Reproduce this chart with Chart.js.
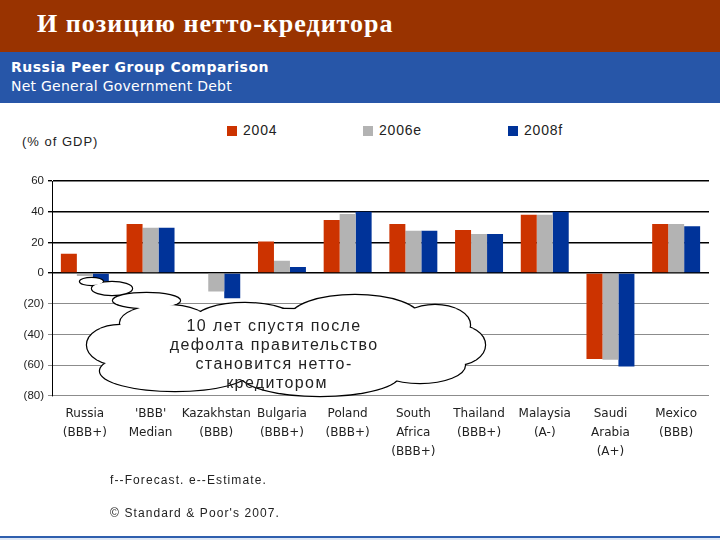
<!DOCTYPE html>
<html>
<head>
<meta charset="utf-8">
<script src="https://cdn.jsdelivr.net/npm/chart.js@4/dist/chart.umd.min.js"></script>
<style>
  body { margin: 0; width: 720px; height: 540px; position: relative; overflow: hidden; background: #fff; font-family: "Liberation Sans", Arial, sans-serif; }
  #titlebar { position: absolute; left: 0; top: 0; width: 720px; height: 52px; background: #993300; }
  #titlebar h1 { margin: 0; position: absolute; left: 37px; top: 9px; font: bold 26px "Liberation Serif", "Times New Roman", serif; letter-spacing: 1px; color: #fff; }
  #band { position: absolute; left: 0; top: 52px; width: 720px; height: 51px; background: #2756a8; color: #fff; }
  #band .l1 { position: absolute; left: 11px; top: 7px; font: bold 14px "DejaVu Sans", Verdana, sans-serif; letter-spacing: 0.5px; }
  #band .l2 { position: absolute; left: 11px; top: 26px; font: 14px "DejaVu Sans", Verdana, sans-serif; letter-spacing: 0.25px; }
  #legend { position: absolute; top: 122px; left: 0; width: 720px; height: 16px; font-size: 14px; letter-spacing: 0.8px; color: #222; }
  #legend span { position: absolute; top: 0; line-height: 16px; }
  #legend i { display: inline-block; width: 10px; height: 10px; margin-right: 6px; vertical-align: -1px; }
  #unit { position: absolute; left: 22px; top: 134px; font-size: 13px; letter-spacing: 1px; color: #222; }
  #wrap { position: absolute; left: 0; top: 160px; width: 720px; height: 300px; }
  #cloud { position: absolute; left: 0; top: 0; width: 720px; height: 540px; pointer-events: none; }
  .note { position: absolute; left: 110px; font-size: 12px; letter-spacing: 1.1px; color: #222; }
  #bottomline { position: absolute; left: 0; top: 536px; width: 720px; height: 4px; background: #dfe8f5; border-top: 2px solid #2f5fae; }
</style>
</head>
<body>
<div id="titlebar"><h1>И позицию нетто-кредитора</h1></div>
<div id="band">
  <div class="l1">Russia Peer Group Comparison</div>
  <div class="l2">Net General Government Debt</div>
</div>
<div id="legend"></div>
<div id="unit">(% of GDP)</div>
<div id="wrap"><canvas id="chart"></canvas></div>

<svg id="cloud" viewBox="0 0 720 540">
  <g id="cloudStroke" fill="none" stroke="#000" stroke-width="2.4"></g>
  <g id="cloudFill" fill="#fff"></g>
  <text font-family="Liberation Sans, Arial, sans-serif" font-size="16" letter-spacing="1.4" fill="#222" text-anchor="middle">
    <tspan x="277" y="331">10 лет спустя после</tspan>
    <tspan x="277" y="350">дефолта правительство</tspan>
    <tspan x="277" y="369">становится нетто-</tspan>
    <tspan x="277" y="388">кредитором</tspan>
  </text>
</svg>

<div class="note" style="top:473px">f--Forecast. e--Estimate.</div>
<div class="note" style="top:506px">© Standard &amp; Poor's 2007.</div>
<div id="bottomline"></div>

<script>
// categories and values (% of GDP, negative = net assets)
const categories = [
  ['Russia', '(BBB+)'],
  ["'BBB'", 'Median'],
  ['Kazakhstan', '(BBB)'],
  ['Bulgaria', '(BBB+)'],
  ['Poland', '(BBB+)'],
  ['South', 'Africa', '(BBB+)'],
  ['Thailand', '(BBB+)'],
  ['Malaysia', '(A-)'],
  ['Saudi', 'Arabia', '(A+)'],
  ['Mexico', '(BBB)']
];
const seriesNames = ['2004', '2006e', '2008f'];
const v2004 = [12.5, 32, null, 20.5, 34.5, 32, 28, 38, -56, 32];
const v2006e = [-2, 29.5, -12, 8, 38.5, 27.5, 25.5, 38, -56.5, 32];
const v2008f = [-5.5, 29.5, -16.5, 4, 40, 27.5, 25.5, 40, -61, 30.5];
const yTicks = [60, 40, 20, 0, -20, -40, -60, -80];

const colors = ['#cc3300', '#b3b3b3', '#003399'];

// legend (html, same colours as datasets)
const legendX = [227, 363, 508];
const legend = document.getElementById('legend');
seriesNames.forEach((name, i) => {
  const s = document.createElement('span');
  s.style.left = legendX[i] + 'px';
  s.innerHTML = '<i style="background:' + colors[i] + '"></i>' + name;
  legend.appendChild(s);
});

// cloud callout shape: union of ellipses
const cloudParts = [
  [91.5, 281.5, 11.5, 3.5],
  [112, 288.5, 20, 6.5],
  [146.5, 300.5, 33.5, 7.5],
  [120, 345, 33, 20],
  [165, 323, 45, 18],
  [245, 320, 50, 17],
  [355, 318, 65, 23],
  [435, 325, 35, 20],
  [455, 345, 30, 20],
  [420, 365, 45, 18],
  [320, 374, 80, 22],
  [175, 371, 75, 20],
  [285, 345, 170, 36]
];
const ns = 'http://www.w3.org/2000/svg';
['cloudStroke', 'cloudFill'].forEach(id => {
  const g = document.getElementById(id);
  cloudParts.forEach(p => {
    const e = document.createElementNS(ns, 'ellipse');
    e.setAttribute('cx', p[0]); e.setAttribute('cy', p[1]);
    e.setAttribute('rx', p[2]); e.setAttribute('ry', p[3]);
    g.appendChild(e);
  });
});

const ctx = document.getElementById('chart').getContext('2d');
new Chart(ctx, {
  type: 'bar',
  data: {
    labels: categories,
    datasets: [
      { label: seriesNames[0], data: v2004, backgroundColor: colors[0] },
      { label: seriesNames[1], data: v2006e, backgroundColor: colors[1] },
      { label: seriesNames[2], data: v2008f, backgroundColor: colors[2] }
    ]
  },
  options: {
    responsive: true,
    maintainAspectRatio: false,
    animation: false,
    layout: { padding: { top: 21, right: 11, left: 0, bottom: 0 } },
    datasets: { bar: { categoryPercentage: 0.73, barPercentage: 1.0, borderWidth: 0 } },
    plugins: { legend: { display: false }, tooltip: { enabled: false } },
    scales: {
      x: {
        grid: { display: false, drawTicks: false },
        border: { display: false },
        ticks: {
          color: '#222', padding: 9, maxRotation: 0, autoSkip: false,
          font: { family: 'DejaVu Sans', size: 12, lineHeight: 1.58 }
        },
        afterFit: scale => { scale.height = 64.3; }
      },
      y: {
        min: -80, max: 60,
        afterBuildTicks: scale => { scale.ticks = yTicks.map(v => ({ value: v })); },
        grid: {
          color: c => (c.tick && c.tick.value >= 0 ? '#000' : '#8c8c8c'),
          lineWidth: c => (c.tick && c.tick.value >= 0 ? 1.4 : 1),
          tickLength: 4
        },
        border: { display: true, color: '#000', width: 1 },
        ticks: {
          color: '#222', padding: 4,
          font: { family: 'Liberation Sans', size: 11.5 },
          callback: v => (v < 0 ? '(' + Math.abs(v) + ')' : String(v))
        },
        afterFit: scale => { scale.width = 52; }
      }
    }
  }
});
</script>
</body>
</html>
